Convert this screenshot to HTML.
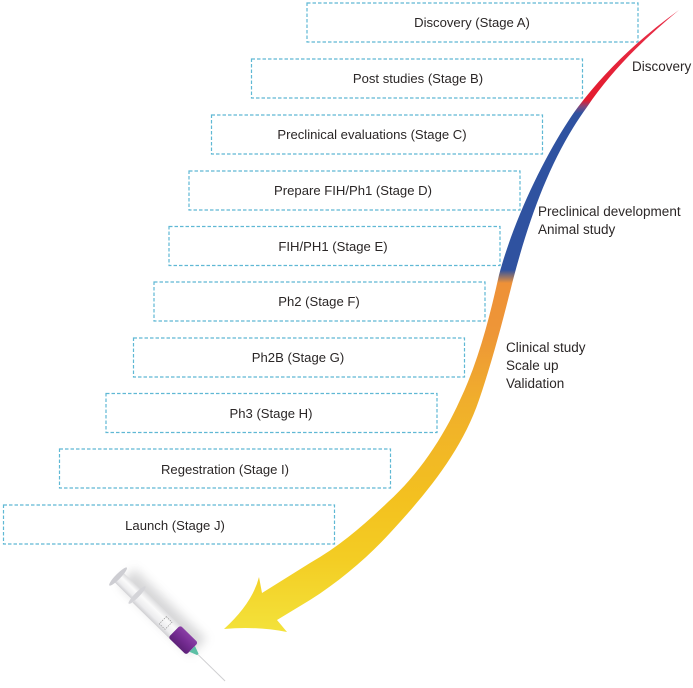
<!DOCTYPE html>
<html><head><meta charset="utf-8"><style>
html,body{margin:0;padding:0;background:#fff}
svg{display:block}
text{font-family:"Liberation Sans",sans-serif;font-size:13.1px;fill:#2b2727}
.s{font-size:13.5px}
.b{fill:none;stroke:#5fb8d4;stroke-width:1.2;stroke-dasharray:3.5 2}
.c{text-anchor:middle}
</style></head><body>
<svg width="693" height="688" viewBox="0 0 693 688" xmlns="http://www.w3.org/2000/svg">
<defs>
<linearGradient id="g" gradientUnits="userSpaceOnUse" x1="0" y1="10" x2="0" y2="632">
<stop offset="0" stop-color="#e8304a"/>
<stop offset=".145" stop-color="#e31b2f"/>
<stop offset=".156" stop-color="#7a4a80"/>
<stop offset=".166" stop-color="#2f52a0"/>
<stop offset=".418" stop-color="#2f52a0"/>
<stop offset=".439" stop-color="#ee9137"/>
<stop offset=".52" stop-color="#ee9637"/>
<stop offset=".627" stop-color="#f0ae2c"/>
<stop offset=".788" stop-color="#f3c11f"/>
<stop offset=".884" stop-color="#f3cd24"/>
<stop offset="1" stop-color="#f3e23a"/>
</linearGradient>
<linearGradient id="bar" x1="0" y1="0" x2="0" y2="1">
<stop offset="0" stop-color="#dcdcde"/><stop offset=".35" stop-color="#fafafa"/><stop offset=".75" stop-color="#ececee"/><stop offset="1" stop-color="#cfcfd2"/>
</linearGradient>
<linearGradient id="pur" x1="0" y1="0" x2="0" y2="1">
<stop offset="0" stop-color="#8a3fa6"/><stop offset=".5" stop-color="#752c92"/><stop offset="1" stop-color="#5d2178"/>
</linearGradient>
<filter id="bl" x="-30%" y="-100%" width="160%" height="300%"><feGaussianBlur stdDeviation="5"/></filter>
</defs>

<rect class="b" x="307" y="3" width="331" height="39"/>
<rect class="b" x="251.500" y="59" width="331" height="39"/>
<rect class="b" x="211.500" y="115" width="331" height="39"/>
<rect class="b" x="189" y="171" width="331" height="39"/>
<rect class="b" x="169" y="226.500" width="331" height="39"/>
<rect class="b" x="154" y="282" width="331" height="39"/>
<rect class="b" x="133.500" y="338" width="331" height="39"/>
<rect class="b" x="106" y="393.500" width="331" height="39"/>
<rect class="b" x="59.500" y="449" width="331" height="39"/>
<rect class="b" x="3.500" y="505" width="331" height="39"/>

<text class="c" x="472" y="27">Discovery (Stage A)</text>
<text class="c" x="418" y="83">Post studies (Stage B)</text>
<text class="c" x="372" y="139">Preclinical evaluations (Stage C)</text>
<text class="c" x="353" y="195">Prepare FIH/Ph1 (Stage D)</text>
<text class="c" x="333" y="251">FIH/PH1 (Stage E)</text>
<text class="c" x="319" y="306">Ph2 (Stage F)</text>
<text class="c" x="298" y="362">Ph2B (Stage G)</text>
<text class="c" x="271" y="418">Ph3 (Stage H)</text>
<text class="c" x="225" y="474">Regestration (Stage I)</text>
<text class="c" x="175" y="530">Launch (Stage J)</text>

<text class="s" x="632" y="71">Discovery</text>
<text class="s" x="538" y="216">Preclinical development</text>
<text class="s" x="538" y="234">Animal study</text>
<text class="s" x="506" y="352">Clinical study</text>
<text class="s" x="506" y="370">Scale up</text>
<text class="s" x="506" y="388">Validation</text>

<path fill="url(#g)" d="M679,10 C640,38 606,70 578,107 C550,145 515,215 499,275 C489,320 478,362 460,400 C443,438 418,475 388,502 C365,524 340,546 310,563 L262,593 L259,577 Q252.500,603 224,629 Q256.500,626 287,632 L277,620 L310,600 C340,581 368,557 390,533 C428,492 462,450 479,400 C492,362 503,320 513,280 C530,215 552,155 587,107 C612,70 645,38 679,10 Z"/>

<g transform="translate(117,575.500) rotate(44.300)">
<rect x="6" y="-8" width="100" height="22" fill="#8a8a8e" opacity=".34" filter="url(#bl)" transform="translate(2,-9)"/>
<rect x="2" y="-6.500" width="26" height="13" fill="url(#bar)"/>
<ellipse cx="1.500" cy="0" rx="2.600" ry="12.500" fill="#cdcdd2"/>
<rect x="30" y="-8.500" width="52" height="17" fill="url(#bar)"/>
<ellipse cx="28" cy="0" rx="2.400" ry="12" fill="#d4d4d8"/>
<rect x="64" y="-5" width="8" height="10" fill="none" stroke="#8a8a8a" stroke-width=".6" stroke-dasharray="1.500 1"/>
<rect x="80" y="-8.500" width="25" height="17" rx="2.500" fill="url(#pur)"/>
<path d="M105,-4 L113,-1 L113,1 L105,4 Z" fill="#5cbfa5"/>
<line x1="113" y1="0" x2="151" y2="0" stroke="#cfcfd1" stroke-width="1"/>
</g>
</svg>
</body></html>
